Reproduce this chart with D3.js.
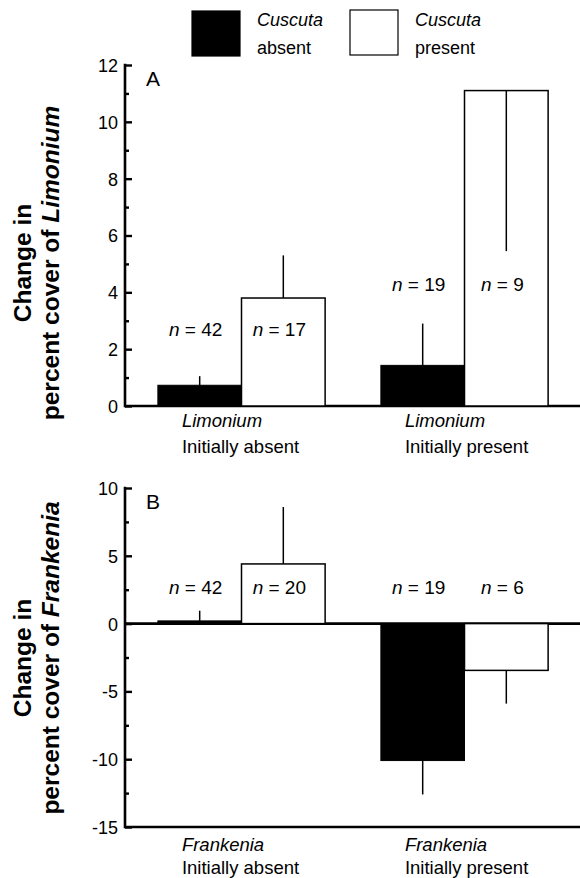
<!DOCTYPE html>
<html>
<head>
<meta charset="utf-8">
<script src="https://cdn.jsdelivr.net/npm/d3@7"></script>
<style>
  body { margin: 0; background: #fff; }
  svg text { font-family: "Liberation Sans", Arial, Helvetica, sans-serif; fill: #000; }
</style>
</head>
<body>
<div id="chart-container"></div>
<script>
// data
const series = ["absent", "present"];          // Cuscuta absent / present
const groups = ["Initially absent", "Initially present"];

// panel A: change in percent cover of Limonium
const meanA = [[0.73, 3.8], [1.43, 11.1]];
const errEndA = [[1.05, 5.3], [2.9, 5.45]];
const nA = [[42, 17], [19, 9]];
const nLabelYA = [2.45, 4.05];

// panel B: change in percent cover of Frankenia
const meanB = [[0.2, 4.4], [-10.1, -3.45]];
const errEndB = [[0.95, 8.6], [-12.6, -5.9]];
const nB = [[42, 20], [19, 6]];
const nLabelYB = [2.18, 2.18];

const ticksA = [0, 2, 4, 6, 8, 10, 12];
const minorA = [1, 3, 5, 7, 9, 11];
const ticksB = [-15, -10, -5, 0, 5, 10];
const minorB = [-12.5, -7.5, -2.5, 2.5, 7.5];

const W = 580, H = 878;
const axisX = 125;

const svg = d3.select("#chart-container").append("svg")
  .attr("width", W).attr("height", H);

// x scales shared by both panels
const x0 = d3.scaleBand().domain(groups).range([130, 576])
  .paddingInner(0.25).paddingOuter(0.125);
const x1 = d3.scaleBand().domain(series).range([0, x0.bandwidth()]);
const fills = { absent: "#000", present: "#fff" };

function drawPanel(opts) {
  const { y, ticks, minor, means, errEnds, ns, nY, letter, letterY, species,
          titleY, catY, zeroLines } = opts;
  const g = svg.append("g");

  // horizontal lines (baseline / zero line / bottom)
  zeroLines.forEach(v => {
    g.append("line")
      .attr("x1", axisX).attr("x2", W)
      .attr("y1", y(v)).attr("y2", y(v))
      .attr("stroke", "#000").attr("stroke-width", 2.6);
  });

  // bars
  groups.forEach((grp, gi) => {
    series.forEach((s, si) => {
      const v = means[gi][si];
      const bx = x0(grp) + x1(s);
      g.append("rect")
        .attr("x", bx)
        .attr("y", y(Math.max(0, v)))
        .attr("width", x1.bandwidth())
        .attr("height", Math.abs(y(v) - y(0)))
        .attr("fill", fills[s])
        .attr("stroke", "#000")
        .attr("stroke-width", s === "present" ? 1.5 : 1);
      // error bar, one-sided
      const cx = bx + x1.bandwidth() / 2;
      g.append("line")
        .attr("x1", cx).attr("x2", cx)
        .attr("y1", y(v)).attr("y2", y(errEnds[gi][si]))
        .attr("stroke", "#000")
        .attr("stroke-width", 1.5);
      // n labels
      const t = g.append("text")
        .attr("x", cx - 4)
        .attr("y", y(nY[gi]))
        .attr("text-anchor", "middle")
        .style("font-size", "19px");
      t.append("tspan").style("font-style", "italic").text("n");
      t.append("tspan").text(" = " + ns[gi][si]);
    });

    // category labels
    const lx = x0(grp) + 24;
    g.append("text")
      .attr("x", lx).attr("y", catY[0])
      .style("font-size", "18.5px").style("font-style", "italic")
      .text(species);
    g.append("text")
      .attr("x", lx).attr("y", catY[1])
      .style("font-size", "18.5px")
      .text(grp);
  });

  // major ticks (inward) and labels
  const ax = g.append("g")
    .attr("transform", `translate(${axisX},0)`)
    .call(d3.axisLeft(y).tickValues(ticks).tickSize(-7).tickSizeOuter(0)
      .tickPadding(7).tickFormat(d => String(d)));
  ax.select(".domain").remove();
  ax.selectAll(".tick line").attr("stroke", "#000").attr("stroke-width", 2.4);
  ax.selectAll(".tick text")
    .style("font-size", "18px")
    .attr("font-family", null)
    .attr("dy", "0.36em");

  // minor ticks
  const mx = g.append("g")
    .attr("transform", `translate(${axisX},0)`)
    .call(d3.axisLeft(y).tickValues(minor).tickSize(-4).tickSizeOuter(0).tickFormat(""));
  mx.select(".domain").remove();
  mx.selectAll(".tick line").attr("stroke", "#000").attr("stroke-width", 2.4);

  // y axis spine, drawn on top of the ticks
  g.append("line")
    .attr("x1", axisX).attr("x2", axisX)
    .attr("y1", y(y.domain()[0]) + 1.3).attr("y2", y(y.domain()[1]) - 1.2)
    .attr("stroke", "#000").attr("stroke-width", 2.6);

  // panel letter
  g.append("text")
    .attr("x", 146).attr("y", letterY)
    .style("font-size", "21px")
    .text(letter);

  // y title, two bold lines rotated
  const tt = g.append("text")
    .attr("transform", `translate(31,${titleY}) rotate(-90)`)
    .attr("text-anchor", "middle")
    .style("font-size", "24.5px").style("font-weight", "bold");
  tt.append("tspan").attr("x", 0).attr("y", 0).text("Change in");
  const l2 = tt.append("tspan").attr("x", 0).attr("y", 28);
  l2.append("tspan").text("percent cover of ");
  l2.append("tspan").style("font-style", "italic").text(species);
}

const yA = d3.scaleLinear().domain([0, 12]).range([406, 65]);
drawPanel({
  y: yA, ticks: ticksA, minor: minorA, means: meanA, errEnds: errEndA,
  ns: nA, nY: nLabelYA, letter: "A", letterY: 86, species: "Limonium",
  titleY: 263, catY: [427, 453], zeroLines: [0]
});

const yB = d3.scaleLinear().domain([-15, 10]).range([827, 488]);
drawPanel({
  y: yB, ticks: ticksB, minor: minorB, means: meanB, errEnds: errEndB,
  ns: nB, nY: nLabelYB, letter: "B", letterY: 509, species: "Frankenia",
  titleY: 658, catY: [851, 874], zeroLines: [0, -15]
});

// legend
const legend = svg.append("g");
[["absent", 192, 11], ["present", 350, 10]].forEach(([s, lx, ly]) => {
  legend.append("rect")
    .attr("x", lx).attr("y", ly).attr("width", 48).attr("height", 45)
    .attr("fill", fills[s]).attr("stroke", "#000").attr("stroke-width", 1.2);
  legend.append("text")
    .attr("x", lx + 65).attr("y", 26)
    .style("font-size", "18px").style("font-style", "italic")
    .text("Cuscuta");
  legend.append("text")
    .attr("x", lx + 65).attr("y", 54)
    .style("font-size", "18px")
    .text(s);
});
</script>
</body>
</html>
